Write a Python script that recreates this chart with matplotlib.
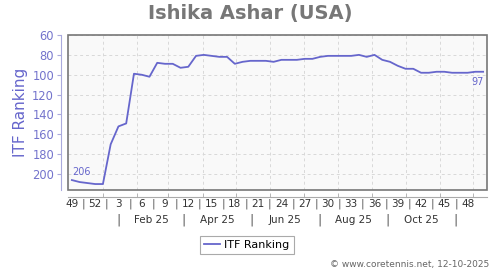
import matplotlib.pyplot as plt
import matplotlib.transforms as mtransforms
from matplotlib.patches import Rectangle
import numpy as np

# weekly ITF ranking, week 49/2024 .. week 50/2025
ranks = [206, 208, 209, 210, 210, 170, 152, 149, 99, 100,
         102, 88, 89, 89, 93, 92, 81, 80, 81, 82,
         82, 89, 87, 86, 86, 86, 87, 85, 85, 85,
         84, 84, 82, 81, 81, 81, 81, 80, 82, 80,
         85, 87, 91, 94, 94, 98, 98, 97, 97, 98,
         98, 98, 97, 97]
week_labels = ["49", "52", "3", "6", "9", "12", "15", "18", "21", "24",
               "27", "30", "33", "36", "39", "42", "45", "48"]
month_labels = ["Feb 25", "Apr 25", "Jun 25", "Aug 25", "Oct 25"]
start_date = np.datetime64("2024-12-04")

line_col = "#6666cc"
tick_col = "#7373cc"

fig = plt.figure(figsize=(5, 2.7), dpi=100)
ax = fig.add_axes([68/500, 1-190/270, 419/500, 155/270])
ax.set_facecolor("#f9f9f9")

x = np.arange(len(ranks))
ax.plot(x, ranks, color=line_col, lw=1.3, label="ITF Ranking", zorder=3)
ax.set_xlim(-0.5, len(ranks) - 0.5)
ax.set_ylim(216, 60)

# month gridlines
month_starts = np.arange(np.datetime64("2025-01"), np.datetime64("2026-01"), np.timedelta64(1, "M")).astype("datetime64[D]")
month_x = (month_starts - start_date).astype(float) / 7
ax.set_xticks(month_x, minor=True)
ax.set_xticks([])
ax.set_yticks(np.arange(60, 201, 20))
ax.grid(True, which="minor", axis="x", color="#d8d8d8", ls=(0, (3, 3)), lw=0.7)
ax.grid(True, which="major", axis="y", color="#d8d8d8", ls=(0, (3, 3)), lw=0.7)
ax.tick_params(axis="x", which="minor", direction="in", length=3, color="#aaaaaa", labelbottom=False)
ax.tick_params(axis="y", length=3, color="#aaaadd", labelcolor=tick_col, labelsize=8.3, pad=2)

for s in ["top", "right"]:
    ax.spines[s].set_visible(False)
ax.spines["left"].set_position(("outward", 5))
ax.spines["left"].set_color("#aaaadd")
ax.spines["bottom"].set_position(("outward", 5))
ax.spines["bottom"].set_color("#aaaaaa")
ax.add_patch(Rectangle((0, 0), 1, 1, transform=ax.transAxes, fill=False,
                       ec="#777777", lw=1.2, zorder=5, clip_on=False))

# week labels with separators
trans = mtransforms.blended_transform_factory(ax.transData, fig.transFigure)
for i, lab in enumerate(week_labels):
    ax.text(i * 3, 1 - 204/270, lab, transform=trans, ha="center", va="center",
            fontsize=7.5, color="#333333")
    if i < len(week_labels) - 1:
        ax.text(i * 3 + 1.5, 1 - 204/270, "|", transform=trans, ha="center",
                va="center", fontsize=8, color="#555555")

# month row
seps = np.array(["2025-01-15", "2025-03-15", "2025-05-15", "2025-07-15",
                 "2025-09-15", "2025-11-15"], dtype="datetime64[D]")
sep_x = (seps - start_date).astype(float) / 7
for sx in sep_x:
    ax.text(sx, 1 - 220/270, "|", transform=trans, ha="center", va="center",
            fontsize=9, color="#555555")
for i, lab in enumerate(month_labels):
    ax.text((sep_x[i] + sep_x[i + 1]) / 2, 1 - 220/270, lab, transform=trans,
            ha="center", va="center", fontsize=7.5, color="#333333")

ax.annotate(str(ranks[0]), xy=(0, ranks[0]), xytext=(0, 8), textcoords="offset pixels",
            ha="left", va="center", fontsize=7, color=line_col)
ax.annotate(str(ranks[-1]), xy=(x[-1], ranks[-1]), xytext=(1, -10), textcoords="offset pixels",
            ha="right", va="center", fontsize=7, color=line_col)

fig.text(0.5, 1 - 13/270, "Ishika Ashar (USA)", ha="center", va="center",
         fontsize=14, fontweight="bold", color="#777777")
fig.text(21/500, 1 - 112/270, "ITF Ranking", rotation=90, ha="center", va="center",
         fontsize=11, color=line_col)

leg = fig.legend(loc="center", bbox_to_anchor=(247/500, 1 - 245/270), fontsize=8,
                 fancybox=False, edgecolor="#aaaaaa", handlelength=1.4,
                 handletextpad=0.4, borderpad=0.35, framealpha=1)
leg.get_frame().set_linewidth(0.8)

fig.text(489/500, 1 - 264/270, "\u00a9 www.coretennis.net, 12-10-2025", ha="right",
         va="center", fontsize=6.5, color="#666666")

fig.savefig("out.png", dpi=100)
